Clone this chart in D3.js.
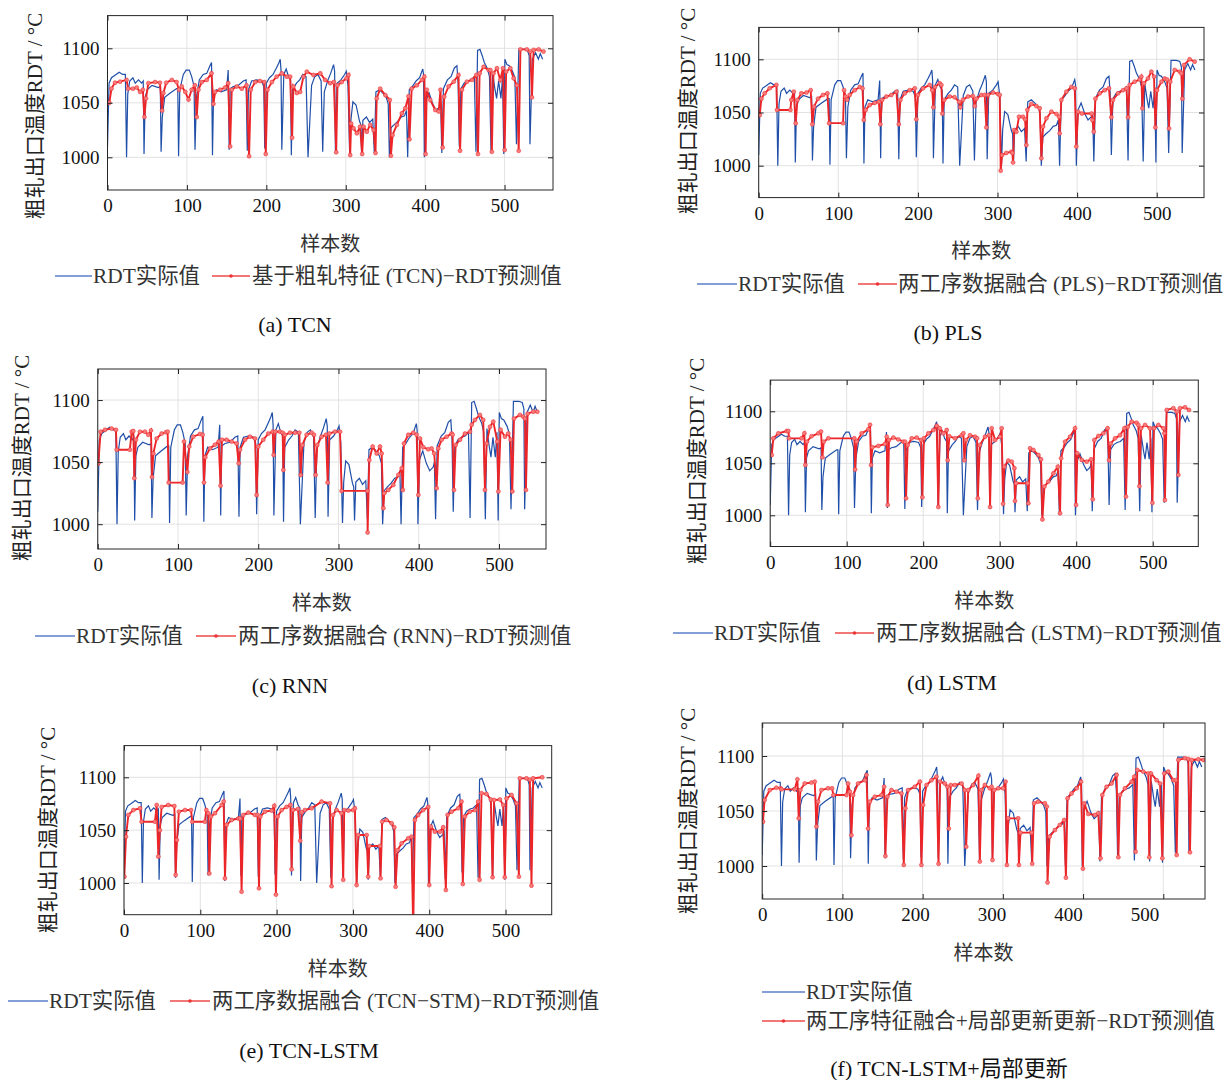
<!DOCTYPE html>
<meta charset="utf-8">
<head>
  <script src="https://d3js.org/d3.v7.min.js"></script>
  <style>
    body { margin: 0; background: #fff; }
    svg text { font-family: "Liberation Serif", "Noto Sans CJK SC", serif; }
  </style>
</head>
<body>
<svg id="fig" width="1231" height="1080"></svg>
<script>
// ===================== data (sample index, RDT in °C) =====================
// measured RDT - the same blue curve is drawn in every panel
var actualRDT = [[0,1010],[2,1068],[5,1073],[9,1075],[14.7,1078],[19,1076],[22.5,1076],[24,1000],[25.5,1058],[28,1070],[32,1073],[35,1068],[39,1071],[43,1068],[45,1070],[46,1003],[47.5,1055],[50,1062],[56,1066],[64,1064],[66.5,1065],[67.5,1005],[69,1037],[72,1055],[79,1059],[87,1063],[88.5,1063],[89.5,1001],[91,1062],[95.5,1076],[99,1080],[103,1080],[106,1074],[109,1065],[110.2,1007],[112,1055],[115.6,1071],[120.5,1076],[125,1077],[129,1084],[131,1087],[132.2,1002],[133.5,1055],[137,1062],[143,1060],[150,1062],[152,1080],[153.2,1007],[154.5,1063],[158.5,1065],[164.6,1066],[171,1070],[174.5,1071],[176,1006],[177.5,1062],[181.5,1070],[187.6,1071],[194,1070],[196.8,1065],[198,1008],[200,1068],[204,1073],[208.5,1076],[212.7,1082],[216,1087],[217.5,1090],[218.5,1080],[219.5,1007],[222,1076],[225,1081],[228,1074],[230.5,1071],[231.5,1002],[233,1062],[238,1068],[242,1071],[246,1076],[250,1074],[252.5,1000],[257,1066],[261,1074],[265,1076],[269,1070],[271,1005],[273,1060],[277.6,1071],[281,1077],[284.7,1085],[286,1079],[287,1006],[289,1068],[294,1071],[298.6,1076],[300.7,1079],[302.8,1066],[305,1001],[306.5,1034],[309,1051],[313,1048],[317.4,1033],[319,1030],[320,1003],[321.6,1034],[326,1037],[330,1032],[334,1035],[336,1004],[338,1060],[342.5,1062],[346.7,1059],[351,1055],[353.5,1049],[355,1000],[357,1027],[361,1030],[365.6,1033],[370,1037],[374,1038],[376.5,1043],[378,1000],[380,1062],[384,1065],[388.6,1070],[393,1073],[397,1081],[398,1076],[399,1000],[401,1052],[405,1059],[409.5,1049],[413.7,1043],[418,1046],[419.5,1050],[421,1004],[423,1063],[428,1071],[432.6,1074],[436.8,1082],[440,1084],[441.5,1068],[443,1010],[445,1063],[449,1068],[453.5,1070],[457.7,1071],[462,1074],[464,1005],[466,1098],[469,1099],[472,1093],[474.5,1087],[478.6,1081],[481,1074],[483,1004],[485,1077],[488,1062],[490,1054],[492.5,1070],[495.4,1054],[497.5,1074],[499,1003],[500.4,1090],[503,1085],[506,1084],[510,1079],[513,1073],[515,1012],[518,1099],[524.7,1099],[529,1098],[531,1093],[532,1012],[535,1090],[539,1096],[542.6,1090],[545,1095],[548,1090]];

// (a) TCN prediction
var predTCN = [[0,1050],[2.3,1050],[5,1063],[9.5,1068.5],[15.8,1069.4],[24,1071],[26,1063],[32,1063],[36.8,1064],[41,1060],[44.5,1062],[46.5,1037],[48.5,1054],[51.5,1068],[60,1069],[66,1068.5],[68.7,1043],[70.4,1059],[74,1068.5],[81,1071],[87,1069],[90,1062],[93.5,1065],[98,1060],[102,1053],[106,1062],[110,1066],[112.4,1037],[114.5,1062],[118.7,1069],[125,1071],[131,1077],[133.4,1049],[135.5,1060],[141.8,1062],[148,1064],[152,1068],[154.4,1010],[156.5,1062],[162.8,1065],[169,1063],[175,1066],[178.3,1001],[180.4,1062],[186,1069],[192,1070],[197.5,1069],[199.3,1003],[201.4,1062],[207,1069],[213,1074],[219.5,1077],[226,1074],[230,1074],[232.5,1018],[234,1065],[238.4,1059],[242.6,1060],[246.8,1074],[251,1078.6],[259.4,1075.5],[268,1077],[274,1071],[280.4,1068],[285,1069],[288,1004.6],[289.6,1066],[295,1069],[301,1072.5],[303.5,1075.5],[305.6,1002],[306.8,1031],[309.8,1026.6],[314,1022],[318,1028],[320.7,1003],[322.5,1028],[326.6,1023.5],[330.8,1029.7],[335,1025],[337.5,1004],[339,1054],[343.4,1063],[350,1057],[355.5,1052.6],[356.9,1001.5],[359,1020.5],[364.4,1029.7],[370.7,1040.4],[375,1045],[379,1056],[380.3,1016.5],[383,1063],[389.6,1066],[396,1071],[399,1074],[400.6,1003],[402,1062],[406.4,1052.6],[412.7,1043.4],[417,1042],[419.3,1062],[422,1009],[424,1055.6],[429.5,1065],[436,1069.4],[442,1075.5],[444,1006],[446.3,1062],[452.6,1069.4],[459,1071],[464.4,1075.5],[466.5,1003],[468.6,1077],[473.6,1083],[480,1080],[482.2,1080],[484,1005],[486,1077],[490.4,1081.7],[494.6,1071],[498,1081.7],[500.1,1006.7],[502,1078.6],[507.3,1081.7],[511.4,1072.5],[515.6,1066],[517.8,1006],[520,1099],[528,1099],[532.4,1097],[534.5,1055],[536.6,1098.5],[543,1099],[549,1097]];

// (b) PLS prediction
var predPLS = [[0,1047.6],[1.3,1047.6],[3.4,1063],[7.5,1068],[13.8,1072.7],[22.2,1075.9],[23,1052.4],[39.8,1052.4],[41,1061.8],[44,1069.6],[46.5,1039.8],[48.6,1061.8],[53.6,1068],[60,1068.7],[65.3,1071],[67.4,1039],[69.5,1055.5],[74.5,1063],[80.8,1066.5],[86.3,1068],[88.4,1040],[106,1040],[107.2,1071],[109,1065],[111,1062],[114.3,1066.5],[120.6,1071],[127,1074],[130.4,1072.7],[132,1043],[134.4,1052.4],[139.4,1057],[145.7,1059],[151,1060],[152.8,1039],[155,1061.8],[160.4,1065],[166.7,1066.5],[173,1069.6],[176,1039],[178,1061.8],[183.4,1068],[189.7,1071],[196,1072.7],[198,1043.6],[200,1066.5],[206.4,1072.7],[214.8,1075.9],[218,1071],[219.4,1054.9],[221.5,1074],[227.4,1077.4],[229.5,1075.9],[230.7,1049],[233,1061.8],[240,1065],[246,1064.4],[251.7,1060],[253.3,1055],[256.7,1062],[263,1065],[269,1065.5],[271.4,1056],[273.5,1063],[279.7,1066.5],[283.9,1066.5],[286,1036],[288,1066.5],[294.4,1068.7],[300.6,1067.4],[302.8,1066.5],[304,995.3],[305.7,1010],[311,1012],[317.4,1013],[318.7,1012],[319.5,1003],[320.8,1033.5],[323.7,1032],[327,1046],[332,1046],[334.6,1043.6],[336.3,1019.4],[337.5,1052.4],[342.5,1058],[348.8,1056],[353,1054],[355.1,1007],[357.2,1036.7],[361.4,1044.5],[367.7,1050.8],[374,1048.6],[377.3,1046],[378.1,1030.4],[380.2,1061.8],[386.5,1069.6],[392.8,1074],[397,1072.7],[399,1018],[401.2,1050.8],[406,1049],[418,1049],[419.2,1043],[420.9,1032],[423,1063],[428.4,1068],[434.7,1071],[440,1072.7],[443,1045.5],[445,1061.8],[451.4,1068],[457.7,1071],[462,1072.7],[464,1045.5],[466,1075.9],[472.4,1079],[478.6,1081],[480.7,1083.7],[482,1054],[484,1077.4],[489,1082],[493.3,1088.4],[496.6,1083.7],[498.3,1036],[500.4,1071],[506,1079],[510,1082],[513,1081],[515.5,1035],[517,1079],[522.6,1090],[529,1088.4],[531,1086.8],[532.2,1063],[534.3,1094.7],[541.4,1100],[547.7,1097.8]];

// (c) RNN prediction
var predRNN = [[0,1049],[0.7,1049],[3.6,1074.5],[9,1076],[17.3,1077],[22.7,1076],[23.6,1060],[40,1060],[42.3,1074.5],[44.3,1075],[45.6,1037],[47.6,1068],[52.6,1074.5],[58.9,1074.5],[63,1072],[66.3,1075.5],[67.6,1038],[69.3,1057],[73.4,1069],[79.6,1073],[85,1074],[87.1,1074.5],[88.4,1033.5],[105.8,1033.5],[107.5,1066.5],[111.7,1042],[114,1062.5],[119,1070.5],[127.4,1072.7],[130.7,1072],[132.4,1033.5],[134,1054],[139.9,1061],[146,1064],[150.7,1066.5],[153,1031],[154.8,1068],[160.6,1068],[166.9,1066.5],[173,1065],[175.6,1049],[177.3,1060],[183.5,1068],[189.7,1070.5],[196,1069],[198,1023.6],[200,1062.5],[206.3,1068],[212.6,1073],[218,1074.5],[219.2,1055.8],[221.3,1074.5],[227.1,1074.5],[230.4,1073.7],[231.3,1043.7],[233.3,1072],[239.6,1073.7],[246,1073.7],[251.2,1073.7],[252.9,1039.7],[255,1063.8],[260.3,1072],[266.6,1073.7],[269.5,1072],[271.5,1039.7],[273.6,1063.8],[279,1070.5],[284.4,1072],[286.5,1033.5],[288.6,1073],[295.6,1074.5],[301.9,1074.5],[303.9,1026.8],[336,1026.8],[336.3,993.3],[338.4,1051.7],[342.6,1062.5],[347.6,1057],[351.7,1062.5],[353.8,1057],[355.9,1012.9],[357,1025],[362.1,1027.6],[368.3,1031.6],[374.6,1039.7],[378.8,1045],[380.2,1027.6],[381.6,1065],[386.9,1072],[393.3,1073.7],[397.4,1072],[399.5,1023.6],[401.6,1069],[405.7,1062],[411.9,1060.3],[416,1061],[419.3,1057],[422.3,1029],[424.4,1061],[428.6,1068],[434.8,1070.5],[441,1073],[442.2,1072],[443.9,1027.6],[446,1063.8],[451.4,1068],[457.6,1073],[463.9,1074.5],[466,1080],[470,1084],[476.3,1088],[480.4,1084],[482.5,1027.6],[484.6,1065],[488.8,1078.5],[492.9,1082.6],[497.9,1066.5],[499.2,1026.3],[502,1076],[507.5,1070.5],[511.6,1073],[514.5,1068],[516.6,1026.3],[518.7,1085],[526.2,1088],[530.3,1086.6],[532.4,1085],[533.6,1027.6],[535.7,1089],[542.8,1090.6],[547.8,1090.6]];

// (d) LSTM prediction
var predLSTM = [[0,1058],[2,1058],[4.1,1074],[10.7,1078.8],[21.6,1081],[23.7,1081],[24.6,1074],[41,1074],[44.7,1078.8],[46,1048.4],[48,1070.8],[54,1076],[63,1078.8],[66.4,1080.5],[68.2,1055.8],[70,1070.8],[76,1074],[110,1074],[111,1044],[113,1070.8],[119.6,1078.8],[128.3,1082.7],[130.5,1087],[131.8,1048.4],[133.6,1065.4],[141.4,1066.7],[150,1068.6],[152.3,1075.6],[153.6,1010],[155.3,1072.4],[161,1074.7],[167.5,1073],[174,1070.8],[176.3,1070.8],[177.6,1016.3],[179.7,1067.6],[185,1074],[191.5,1074.7],[197.2,1072.4],[198.9,1017.3],[201,1074],[206.8,1078.8],[213.3,1082],[217.6,1086],[219.8,1008],[221.6,1083.7],[226.3,1078.8],[230.7,1082],[232,1053],[234.2,1076],[241.6,1074],[250.3,1077],[252.5,1078.8],[253.8,1053],[256,1072.4],[261.2,1077],[267.8,1075.6],[270.4,1074],[271.4,1016.3],[274,1067.6],[280.8,1075.6],[286,1077],[287.4,1008],[289.5,1083.7],[294,1072.4],[300.4,1075.6],[302.6,1083.7],[304.4,1011],[306,1046.8],[311.3,1052.6],[315.7,1051.6],[319.2,1045.3],[320,1013.8],[321.4,1030.8],[336.6,1030.8],[337.5,1011.5],[339.7,1064.4],[344,1062.8],[350.6,1058],[354,1053.8],[355.8,996],[358.4,1027.6],[363.6,1032.4],[370.2,1040.4],[375.9,1046.8],[378.9,1002],[380.2,1054.8],[385.4,1070.8],[392,1075.6],[398.5,1083.7],[399.8,1010],[401.5,1059.6],[407.2,1053.2],[413.7,1051.6],[419.4,1053.8],[421.6,1015.4],[423.7,1072.4],[429,1076.3],[435.5,1078.8],[441,1083.7],[442.9,1053],[445,1069],[450.8,1074],[457.3,1077],[463,1083.7],[465.1,1018],[467.3,1085],[472.5,1090],[479,1089],[481.3,1086.9],[482.6,1028],[484.7,1083.7],[490,1086.9],[496.5,1083.7],[499.6,1012],[501.7,1083.7],[507.4,1086.9],[514,1083.7],[515.2,1078.8],[516,1014.7],[518.3,1101.3],[527,1103],[531.4,1099.7],[533.5,1038.8],[535.7,1103],[542.3,1103.8],[547.5,1101.3]];

// (e) TCN-LSTM prediction
var predTCNLSTM = [[0,1006],[0.4,1006],[2.6,1043.8],[5.7,1064.4],[12.2,1069],[21,1070.7],[23,1058],[40.6,1058],[42.8,1073.8],[45,1025],[47,1050],[49.3,1072],[58,1073.8],[66,1072.8],[67.7,1007.6],[69.4,1040.7],[72,1067.5],[80,1069],[87.8,1069],[89.5,1058],[106,1058],[107.9,1069],[110.5,1066],[111.8,1009],[114,1062.8],[119.2,1066],[128,1073.8],[130.6,1077],[132.3,1004.4],[134.5,1055],[141,1059.6],[149.8,1061],[152,1061],[154.1,991.8],[156.3,1064.4],[162.9,1066.6],[171.6,1064.4],[175.2,1064.4],[176.9,995],[178.6,1062.8],[184.7,1067.5],[193.4,1068.5],[196.9,1073],[199.1,989],[201.3,1062.8],[206.6,1069],[213,1072],[218,1073.8],[219.7,1013],[221.5,1069],[228,1070],[231,1040],[233,1067],[237,1069],[245.9,1070.7],[259,1077],[270,1075.4],[272,997],[274,1064.4],[278.6,1069],[285,1066],[287.3,1003],[288.6,1069],[293.9,1068.5],[300.4,1069],[302.6,1070.7],[304.8,998],[307,1045.4],[318,1045.4],[320,1006],[321.4,1035],[335.4,1035],[336.2,1004.4],[338.4,1058],[344,1059.6],[350.7,1056.5],[354.2,1052.7],[355.9,996.5],[358.5,1031],[363.8,1037.5],[372.5,1042.3],[376.8,1043.8],[379,955],[381.2,1059.6],[385.6,1064.4],[392,1069],[398.7,1072],[400,998],[402.2,1053.3],[407.4,1048.6],[414,1048.6],[418.3,1052.7],[421.8,993.4],[424,1064.4],[429.3,1067.5],[438,1070.7],[442.3,1077],[444,999],[446.7,1062.8],[453.3,1067.5],[460,1069],[464.2,1077],[466,1003],[468.6,1085],[475,1084.2],[480.8,1079],[483,1005.4],[485,1078.5],[492.6,1079],[497,1073.8],[499,1005.4],[501.3,1080],[507.9,1083.3],[514.4,1075.4],[517.5,1006],[518.8,1099],[527.5,1099],[531.9,1097.8],[534,997.5],[536.2,1099],[548,1100]];

// (f) TCN-LSTM + local update prediction
var predLocal = [[0,1040.3],[1,1040.3],[3,1060],[9.4,1069],[17.7,1071.2],[23,1070.6],[24,1069.7],[40.5,1069.7],[43.9,1078.8],[45.5,1043.3],[47.6,1069],[53,1075],[61.3,1075.8],[65.5,1076.7],[67.6,1035.8],[69.6,1058.5],[73.8,1069],[82,1070.6],[87,1070.6],[88.8,1064.5],[105,1064.5],[107,1075],[109.2,1067.6],[111.2,1028],[113.3,1064.5],[119.5,1075],[128,1078],[130,1082.7],[132,1034],[134.1,1058.5],[140.4,1063],[148.7,1064.5],[152,1072],[153.6,1009],[156.1,1063],[161.1,1069],[167.4,1067.6],[173.6,1066],[176.5,1001],[178.6,1052.4],[181.9,1069],[190.2,1072],[196.5,1076.7],[198.5,1001],[200.6,1055.5],[204.8,1073.6],[211,1078],[217.3,1081.2],[219.8,1002],[221.8,1076.7],[227.7,1075],[231,1072],[232.6,1034],[235.1,1073.6],[240.2,1073.6],[248.5,1075],[252.5,1069],[254.3,1017.6],[256.8,1069],[263,1073.6],[269.5,1082],[271.3,1004],[273.4,1069],[277.5,1073.6],[283.8,1070.6],[286,1072],[287.1,1005.5],[289.2,1069],[294.2,1070.6],[300.4,1070.6],[303.4,1076.7],[305,1001],[306.7,1043.3],[319.1,1043.3],[320,1001],[322,1030.3],[335.8,1030.3],[336.6,1002],[339,1057],[344,1058.5],[352.4,1057],[354.8,1054],[355.7,985],[358.2,1026.7],[364.9,1032.7],[371,1037.3],[376.4,1041.8],[378.6,989.4],[380.7,1061.5],[385.7,1066],[392,1070.6],[397.4,1076.7],[399.8,997.6],[401.5,1057],[406.4,1047.3],[414.8,1046.4],[419,1048],[421.8,1007],[424,1064.5],[429.3,1072],[435.5,1075],[441.8,1082.7],[444,1008],[446,1064.5],[452.2,1070.6],[460.5,1076.7],[463.8,1081.2],[465.5,1013],[467.6,1087.3],[475,1085.8],[481.3,1084.2],[482.5,1008],[484.6,1084.2],[491.7,1078],[496,1075],[498.8,1007],[501.3,1084.2],[506.2,1085.8],[512.5,1078],[515.5,1078],[516.7,1010],[518.7,1096.4],[527,1098],[531.2,1097.3],[533.3,1012.4],[535.4,1096.4],[543.7,1097],[550,1096.4]];

var xTicks = [0, 100, 200, 300, 400, 500];
var yTicks = [1000, 1050, 1100];
var actualName = "RDT实际值";
var yTitle = "粗轧出口温度RDT / °C";
var xTitle = "样本数";

// ===================== layout of the six panels =====================
var panels = [
  {pred: predTCN, name: "基于粗轧特征 (TCN)−RDT预测值", caption: "(a) TCN",
   left: 107.5, right: 553, top: 15.6, bottom: 190, xMax: 561, yDom: [970, 1130],
   yLab: [35, 116], xLabY: 244, legY: 276, blue: [55, 92, 93], red: [212, 250, 252], cap: [295, 324]},
  {pred: predPLS, name: "两工序数据融合 (PLS)−RDT预测值", caption: "(b) PLS",
   left: 758.7, right: 1204, top: 27.4, bottom: 197.6, xMax: 559.4, yDom: [970, 1130],
   yLab: [688, 111], xLabY: 251, legY: 284, blue: [697, 737, 738], red: [858, 897, 898], cap: [948, 332]},
  {pred: predRNN, name: "两工序数据融合 (RNN)−RDT预测值", caption: "(c) RNN",
   left: 97.75, right: 546, top: 369, bottom: 549, xMax: 558.6, yDom: [980, 1125],
   yLab: [22, 458], xLabY: 603, legY: 636, blue: [35, 75, 76], red: [196, 236, 238], cap: [290, 685]},
  {pred: predLSTM, name: "两工序数据融合 (LSTM)−RDT预测值", caption: "(d) LSTM",
   left: 770.2, right: 1198.3, top: 380.1, bottom: 546.5, xMax: 559.6, yDom: [970, 1130],
   yLab: [697, 461], xLabY: 601, legY: 633, blue: [673, 713, 714], red: [835, 874, 876], cap: [952, 682]},
  {pred: predTCNLSTM, name: "两工序数据融合 (TCN−STM)−RDT预测值", caption: "(e) TCN-LSTM",
   left: 124, right: 551.7, top: 745.6, bottom: 914.7, xMax: 560.5, yDom: [970, 1130],
   yLab: [48, 830], xLabY: 969, legY: 1001, blue: [8, 48, 49], red: [170, 210, 212], cap: [309, 1050]},
  {pred: predLocal, name: "两工序特征融合+局部更新更新−RDT预测值", caption: "(f) TCN-LSTM+局部更新",
   left: 762.2, right: 1205, top: 723, bottom: 899, xMax: 552, yDom: [970, 1130],
   yLab: [688, 811], xLabY: 953, legY: 992, legY2: 1021, blue: [762, 805, 806], red: [762, 805, 806],
   cap: [949, 1068], labelShrink: 0.953}
];

var BLUE = "#1f4fa8", RED = "#ec2528", MARK = "#f77b7b";
var svg = d3.select("#fig");

panels.forEach(function(p, i) {
  var x = d3.scaleLinear().domain([0, p.xMax]).range([p.left, p.right]);
  var y = d3.scaleLinear().domain(p.yDom).range([p.bottom, p.top]);
  var g = svg.append("g");

  // grid
  g.selectAll(".gx").data(xTicks).enter().append("line")
    .attr("x1", d => x(d)).attr("x2", d => x(d))
    .attr("y1", p.top).attr("y2", p.bottom)
    .attr("stroke", "#e2e2e2").attr("stroke-width", 1);
  g.selectAll(".gy").data(yTicks).enter().append("line")
    .attr("x1", p.left).attr("x2", p.right)
    .attr("y1", d => y(d)).attr("y2", d => y(d))
    .attr("stroke", "#e2e2e2").attr("stroke-width", 1);

  // lines
  svg.append("clipPath").attr("id", "clip" + i).append("rect")
    .attr("x", p.left).attr("y", p.top)
    .attr("width", p.right - p.left).attr("height", p.bottom - p.top);
  var plot = g.append("g").attr("clip-path", "url(#clip" + i + ")");
  var line = d3.line().x(d => x(d[0])).y(d => y(d[1]));

  plot.append("path").datum(actualRDT)
    .attr("d", line).attr("fill", "none")
    .attr("stroke", BLUE).attr("stroke-width", 1.2);
  plot.append("path").datum(p.pred)
    .attr("d", line).attr("fill", "none")
    .attr("stroke", RED).attr("stroke-width", 1.9);
  plot.selectAll(".mk").data(p.pred).enter().append("circle")
    .attr("cx", d => x(d[0])).attr("cy", d => y(d[1])).attr("r", 2)
    .attr("fill", MARK).attr("stroke", RED).attr("stroke-width", 0.5);

  // axes (MATLAB style: ticks inside on all four sides)
  var ax = function(sel) {
    sel.select(".domain").remove();
    sel.selectAll(".tick line").attr("stroke", "#222");
    sel.selectAll("text").attr("font-size", 19).attr("fill", "#111")
      .style("font-family", "'Liberation Serif', serif");
  };
  var fmt = d3.format("d");
  var xb = g.append("g").attr("transform", "translate(0," + p.bottom + ")")
    .call(d3.axisBottom(x).tickValues(xTicks).tickFormat(fmt).tickSize(-5).tickPadding(9)).call(ax);
  if (p.labelShrink) {
    xb.selectAll(".tick text").attr("x", d => (p.left + (x(d) - p.left) * p.labelShrink) - x(d));
  }
  g.append("g").attr("transform", "translate(0," + p.top + ")")
    .call(d3.axisTop(x).tickValues(xTicks).tickSize(-5).tickFormat("")).call(ax);
  g.append("g").attr("transform", "translate(" + p.left + ",0)")
    .call(d3.axisLeft(y).tickValues(yTicks).tickFormat(fmt).tickSize(-5).tickPadding(8)).call(ax);
  g.append("g").attr("transform", "translate(" + p.right + ",0)")
    .call(d3.axisRight(y).tickValues(yTicks).tickSize(-5).tickFormat("")).call(ax);

  g.append("rect").attr("x", p.left).attr("y", p.top)
    .attr("width", p.right - p.left).attr("height", p.bottom - p.top)
    .attr("fill", "none").attr("stroke", "#262626").attr("stroke-width", 1);

  // axis titles
  g.append("text").text(yTitle)
    .attr("transform", "translate(" + p.yLab[0] + "," + p.yLab[1] + ") rotate(-90)")
    .attr("text-anchor", "middle").attr("dominant-baseline", "central")
    .attr("font-size", 21).attr("fill", "#222");
  g.append("text").text(xTitle)
    .attr("x", (p.left + p.right) / 2).attr("y", p.xLabY)
    .attr("text-anchor", "middle").attr("dominant-baseline", "central")
    .attr("font-size", 20).attr("fill", "#333");

  // legend
  var ly2 = p.legY2 || p.legY;
  g.append("line").attr("x1", p.blue[0]).attr("x2", p.blue[1])
    .attr("y1", p.legY).attr("y2", p.legY)
    .attr("stroke", "#5b7fc8").attr("stroke-width", 1.3);
  g.append("text").text(actualName).attr("x", p.blue[2]).attr("y", p.legY)
    .attr("dominant-baseline", "central").attr("font-size", 21.4).attr("fill", "#333");
  g.append("line").attr("x1", p.red[0]).attr("x2", p.red[1])
    .attr("y1", ly2).attr("y2", ly2)
    .attr("stroke", "#ee4a4a").attr("stroke-width", 1.3);
  g.append("circle").attr("cx", (p.red[0] + p.red[1]) / 2).attr("cy", ly2).attr("r", 1.8)
    .attr("fill", "#e33");
  g.append("text").text(p.name).attr("x", p.red[2]).attr("y", ly2)
    .attr("dominant-baseline", "central").attr("font-size", 21.4).attr("fill", "#333");

  // caption
  g.append("text").text(p.caption).attr("x", p.cap[0]).attr("y", p.cap[1])
    .attr("text-anchor", "middle").attr("dominant-baseline", "central")
    .attr("font-size", 22).attr("fill", "#111");
});
</script>
</body>
